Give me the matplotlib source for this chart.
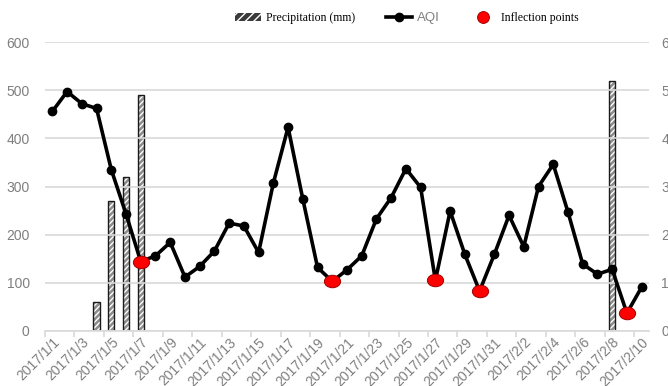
import matplotlib
matplotlib.use("Agg")
import matplotlib.pyplot as plt
from matplotlib.lines import Line2D
from matplotlib.patches import Patch
from matplotlib.markers import MarkerStyle
from matplotlib.transforms import Affine2D

# daily AQI, 2017/1/1 .. 2017/2/10
dates = ["2017/1/%d" % d for d in range(1, 32)] + ["2017/2/%d" % d for d in range(1, 11)]
aqi = [456, 497, 472, 462, 335, 243, 144, 156, 184, 112,
       134, 166, 224, 218, 163, 307, 423, 274, 132, 103,
       127, 156, 233, 277, 337, 298, 105, 249, 159, 83,
       159, 240, 175, 300, 346, 247, 139, 118, 128, 37,
       91]
# precipitation (mm), only the rainy days
rain_idx = [3, 4, 5, 6, 38]
rain_mm = [0.6, 2.7, 3.2, 4.9, 5.2]
# inflection points on the AQI curve
infl_idx = [6, 19, 26, 29, 39]

GRAY = "#7f7f7f"
plt.rcParams["font.family"] = ["Liberation Sans", "DejaVu Sans"]

fig = plt.figure(figsize=(6.68, 3.86), dpi=100)
ax = fig.add_axes([45 / 668, 1 - 331 / 386, 604 / 668, 289 / 386])
ax2 = ax.twinx()
ax.set_zorder(ax2.get_zorder() + 1)
ax.patch.set_visible(False)

x = list(range(len(dates)))

# precipitation bars on the right-hand scale
ax2.bar(rain_idx, rain_mm, width=0.42, color="#8c8c8c", edgecolor="white",
        hatch="//////", linewidth=0, zorder=2)
ax2.bar(rain_idx, rain_mm, width=0.42, fill=False, edgecolor="#1a1a1a",
        linewidth=1.0, zorder=3)
ax2.set_ylim(0, 6)

# AQI line
ax.plot(x, aqi, "-o", color="black", lw=2.6, ms=6, zorder=3)
ell = MarkerStyle("o", transform=Affine2D().scale(1.3, 1.0))
ax.plot(infl_idx, [aqi[i] for i in infl_idx], ls="none", marker=ell,
        ms=9, mfc="#ff0000", mec="#a00000", mew=0.7, zorder=4)
ax.set_ylim(0, 600)
ax.set_xlim(-0.5, len(dates) - 0.5)

# axes styling
for a in (ax, ax2):
    for s in a.spines.values():
        s.set_visible(False)
ax.spines["bottom"].set_visible(True)
ax.spines["bottom"].set_color("#d9d9d9")
ax.spines["bottom"].set_linewidth(1.2)

ax.set_yticks(range(0, 601, 100))
ax.grid(axis="y", color="#d9d9d9", lw=1.2)
ax.set_axisbelow(True)
ax.tick_params(axis="y", length=0, pad=11, labelsize=10, labelcolor=GRAY)
ax2.set_yticks(range(0, 7))
ax2.tick_params(axis="y", length=0, pad=9, labelsize=10, labelcolor=GRAY)

# tick marks between categories, labels on every other date
ax.set_xticks([i - 0.5 for i in range(0, len(dates), 2)])
ax.set_xticklabels([])
ax.tick_params(axis="x", which="major", length=4, color="#d9d9d9", width=1.2)
ax.set_xticks(x[::2], minor=True)
ax.set_xticklabels(dates[::2], minor=True, rotation=45, ha="right", va="top",
                   rotation_mode="anchor", fontsize=10, color=GRAY)
ax.tick_params(axis="x", which="minor", length=0, pad=3)

# legend
handles = [
    Patch(facecolor="#3a3a3a", edgecolor="white", hatch="////", linewidth=0),
    Line2D([], [], color="black", lw=2.6, marker="o", ms=6),
    Line2D([], [], ls="none", marker="o", ms=8.5, mfc="#ff0000", mec="#a00000", mew=0.7),
]
labels = ["Precipitation (mm)", "AQI", "Inflection points"]
leg = fig.legend(handles, labels, loc="center", bbox_to_anchor=(407 / 668, 1 - 18 / 386),
                 ncol=3, frameon=False, handlelength=2.2, handletextpad=0.4,
                 columnspacing=2.6, fontsize=8.5)
for t in leg.get_texts():
    t.set_family(["Liberation Serif", "DejaVu Serif"])
leg.get_texts()[1].set_family(["Liberation Sans", "DejaVu Sans"])
leg.get_texts()[1].set_color(GRAY)
leg.get_texts()[1].set_fontsize(9.5)

fig.savefig("out.png", dpi=100)
